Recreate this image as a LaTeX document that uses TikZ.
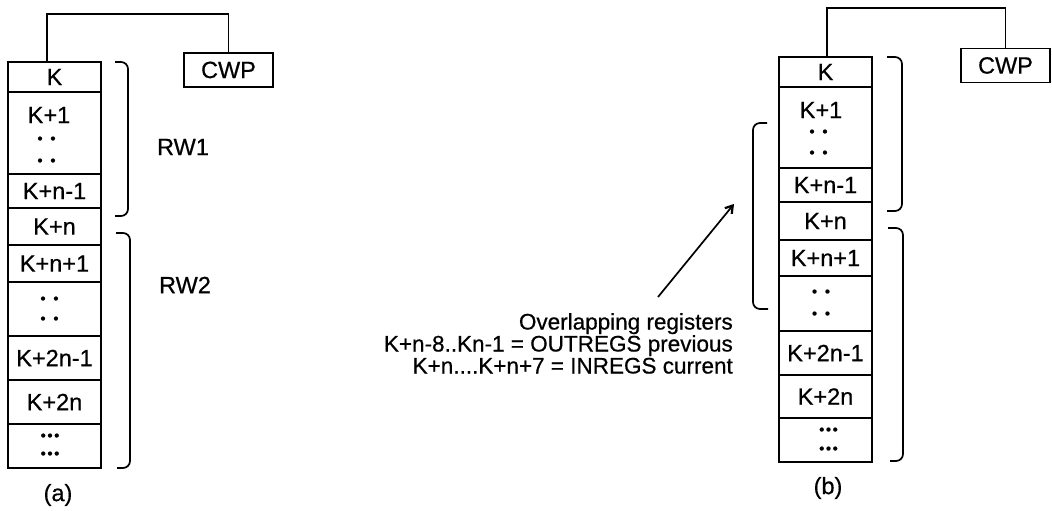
\documentclass[tikz,border=0pt]{standalone}
\usepackage{fontspec}
\setmainfont{Liberation Sans}[FakeBold=0.6]
\usetikzlibrary{arrows.meta}

% one register cell: name, centre x, top y, bottom y, text
\newcommand\regcell[5]{%
  \node[cell, minimum height={#4-#3}] (#1) at (#2,{(#3+#4)/2}) {#5};}
% a row of dots centred at (x,y)
\newcommand\dotrow[3]{\node[dotsty] at (#1,#2) {#3};}
\newcommand\dd{•\hspace{7.7pt}•}
\newcommand\ddd{•\hspace{1.5pt}•\hspace{1.5pt}•}

\begin{document}
\begin{tikzpicture}[x=1pt,y=-1pt,
  every node/.style={font=\fontsize{23.5}{22}\selectfont, inner sep=0pt},
  cell/.style={draw, line width=1.8pt, minimum width=93pt},
  dotsty/.style={font=\fontsize{15}{15}\selectfont},
  cwpbox/.style={draw, line width=1.8pt, minimum width=89pt, minimum height=34pt},
  wire/.style={line width=1.7pt},
  brace/.style={line width=1.7pt, rounded corners=7pt},
  pointer/.style={line width=1.7pt, -{Straight Barb[length=7pt,width=9pt,line width=2.2pt]}}]
\useasboundingbox (0,0) rectangle (1052,511);

% ---------------- (a) ----------------
\regcell{a0}{54.5}{62}{92}{K}
\regcell{a1}{54.5}{92}{174}{}
\regcell{a2}{54.5}{174}{208}{K+n-1}
\regcell{a3}{54.5}{208}{245}{K+n}
\regcell{a4}{54.5}{245}{282}{K+n+1}
\regcell{a5}{54.5}{282}{336}{}
\regcell{a6}{54.5}{336}{380}{K+2n-1}
\regcell{a7}{54.5}{380}{424}{K+2n}
\regcell{a8}{54.5}{424}{468}{}
\node (a1t) at (49,115) {K+1};
\dotrow{46.5}{140}{\dd}
\dotrow{46.5}{162}{\dd}
\dotrow{49.5}{300}{\dd}
\dotrow{49.5}{320}{\dd}
\dotrow{50}{437}{\ddd}
\dotrow{50}{455}{\ddd}

\node[cwpbox] (cwpA) at (228.5,70) {CWP};
\draw[wire] ([xshift=40pt]a0.north west) -- ++(0,-47) -| (cwpA.north);

\draw[brace] (115,62) -- (128,62) -- (128,216) -- (115,216);
\draw[brace] (116,233) -- (130,233) -- (130,468) -- (117,468);
\node (rw1) at (183,147) {RW1};
\node (rw2) at (185,285) {RW2};
\node (capA) at (58,495) {(a)};

% ---------------- (b) ----------------
\regcell{b0}{825.5}{57}{87}{K}
\regcell{b1}{825.5}{87}{168}{}
\regcell{b2}{825.5}{168}{202}{K+n-1}
\regcell{b3}{825.5}{202}{240}{K+n}
\regcell{b4}{825.5}{240}{276}{K+n+1}
\regcell{b5}{825.5}{276}{331}{}
\regcell{b6}{825.5}{331}{375}{K+2n-1}
\regcell{b7}{825.5}{375}{418}{K+2n}
\regcell{b8}{825.5}{418}{462}{}
\node (b1t) at (821,110) {K+1};
\dotrow{818.5}{133}{\dd}
\dotrow{818.5}{154}{\dd}
\dotrow{821}{293}{\dd}
\dotrow{821}{315}{\dd}
\dotrow{828.5}{431}{\ddd}
\dotrow{828.5}{450}{\ddd}

\node[cwpbox] (cwpB) at (1005.5,65.5) {CWP};
\draw[wire] ([xshift=49pt]b0.north west) -- ++(0,-48) -| (cwpB.north);

\draw[brace] (887,57) -- (902,57) -- (902,211) -- (887,211);
\draw[brace] (888,228) -- (903,228) -- (903,461) -- (890,461);
\draw[brace] (767,123) -- (753,123) -- (753,309) -- (768,309);
\node (capB) at (828,488) {(b)};

% note on the overlapping window
\node[anchor=north east, align=right, font=\fontsize{22.5}{22}\selectfont] (ovl) at (733,313)
  {Overlapping registers\\K+n-8..Kn-1 = OUTREGS previous\\K+n....K+n+7 = INREGS current};
\coordinate (arrfrom) at (658,297);
\coordinate (arrto) at (734,204);
\draw[pointer] (arrfrom) -- (arrto);
\end{tikzpicture}
\end{document}
